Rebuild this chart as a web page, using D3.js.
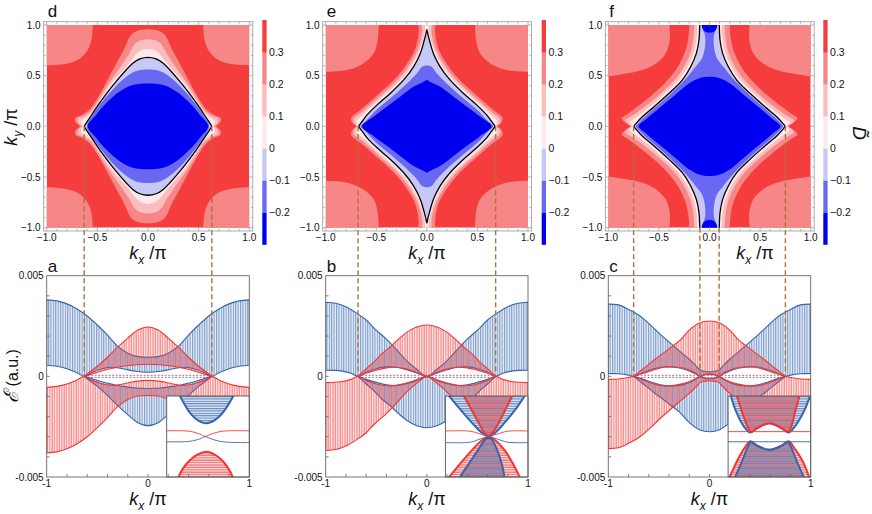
<!DOCTYPE html>
<html>
<head>
<meta charset="utf-8">
<script src="https://cdnjs.cloudflare.com/ajax/libs/d3/7.8.5/d3.min.js"></script>
<style>
  body { margin: 0; background: #fff; }
  text { font-family: "Liberation Sans", Arial, sans-serif; fill: #111; }
</style>
</head>
<body>
<svg id="fig" width="872" height="514"></svg>
<script>
// ---------- colour levels of the D~ maps ----------
const cbLevels = [-0.3, -0.2, -0.1, 0, 0.1, 0.2, 0.3, 0.4];
const cbColors = ["#0000f0", "#6868f2", "#c8c8f6", "#feeaea", "#fbbdbd", "#f78686", "#f53d3d"];
const cbTicks = [-0.2, -0.1, 0, 0.1, 0.2, 0.3];
const mapTicks = [-1, -0.5, 0, 0.5, 1];

// ---------- contour outlines, first quadrant (kx>=0, ky>=0) ----------
// panel d
const dCorner = [[0.546,1.03],[0.553,0.885],[0.595,0.753],[0.694,0.655],[0.842,0.612],[1.03,0.6]];
const dC03 = [[0,0.957],[0.15,0.918],[0.24,0.753],[0.33,0.589],[0.414,0.43],[0.51,0.26],[0.585,0.16],[0.66,0.11],[0.715,0.085],[0.72,0.05],[0.685,0.012],[0.67,0]];
const dC02 = [[0,0.859],[0.11,0.83],[0.19,0.71],[0.28,0.575],[0.384,0.43],[0.49,0.26],[0.565,0.15],[0.64,0.1],[0.69,0.08],[0.695,0.045],[0.665,0.01],[0.652,0]];
const dC01 = [[0,0.766],[0.08,0.745],[0.15,0.67],[0.23,0.57],[0.355,0.43],[0.472,0.26],[0.545,0.15],[0.61,0.09],[0.655,0.06],[0.66,0.03],[0.645,0.005],[0.638,0]];
const dC00 = [[0,0.68],[0.08,0.665],[0.15,0.622],[0.316,0.441],[0.48,0.227],[0.579,0.079],[0.615,0.025],[0.628,0]];
const dCm1 = [[0,0.56],[0.118,0.545],[0.25,0.46],[0.382,0.326],[0.513,0.161],[0.58,0.06],[0.605,0]];
const dCm2 = [[0,0.424],[0.151,0.408],[0.283,0.342],[0.414,0.227],[0.513,0.112],[0.595,0]];
// panel e
const eCorner = [[0.476,1.03],[0.486,0.852],[0.525,0.721],[0.624,0.623],[0.756,0.563],[0.92,0.54],[1.03,0.535]];
const eC03 = [[0.08,1.03],[0.08,0.95],[0.09,0.86],[0.125,0.74],[0.195,0.62],[0.295,0.49],[0.43,0.36],[0.56,0.245],[0.66,0.16],[0.725,0.115],[0.75,0.08],[0.735,0.03],[0.7,0]];
const eC02 = [[0.045,1.03],[0.045,0.95],[0.058,0.86],[0.1,0.735],[0.17,0.61],[0.27,0.48],[0.405,0.35],[0.535,0.235],[0.635,0.145],[0.7,0.1],[0.725,0.07],[0.715,0.025],[0.69,0]];
const eC01 = [[0.015,1.03],[0.018,0.95],[0.038,0.86],[0.082,0.73],[0.15,0.6],[0.25,0.47],[0.385,0.34],[0.515,0.225],[0.615,0.13],[0.67,0.085],[0.695,0.055],[0.692,0.02],[0.682,0]];
const eC00 = [[0,0.955],[0.01,0.91],[0.025,0.852],[0.064,0.721],[0.13,0.589],[0.229,0.458],[0.36,0.327],[0.492,0.212],[0.591,0.113],[0.64,0.048],[0.665,0.015],[0.672,0]];
const eCm1 = [[0,0.6],[0.05,0.585],[0.097,0.524],[0.229,0.392],[0.36,0.278],[0.492,0.169],[0.607,0.048],[0.655,0]];
const eCm2 = [[0,0.458],[0.03,0.441],[0.13,0.392],[0.261,0.294],[0.393,0.195],[0.525,0.097],[0.64,0]];
// panel f
const fCorner = [[0.40,1.03],[0.393,0.852],[0.433,0.72],[0.53,0.62],[0.664,0.556],[0.894,0.51],[1.03,0.49]];
const fC03 = [[0.2,1.03],[0.2,1],[0.21,0.87],[0.24,0.74],[0.3,0.61],[0.385,0.49],[0.51,0.36],[0.64,0.25],[0.76,0.16],[0.83,0.11],[0.87,0.08],[0.83,0.035],[0.785,0]];
const fC02 = [[0.15,1.03],[0.15,1],[0.16,0.86],[0.185,0.735],[0.245,0.6],[0.33,0.475],[0.46,0.345],[0.6,0.225],[0.72,0.135],[0.8,0.085],[0.835,0.06],[0.81,0.025],[0.77,0]];
const fC01 = [[0.12,1.03],[0.12,1],[0.128,0.86],[0.155,0.73],[0.21,0.6],[0.295,0.47],[0.425,0.34],[0.57,0.21],[0.69,0.115],[0.76,0.065],[0.79,0.04],[0.775,0.012],[0.758,0]];
const fC00 = [[0.097,1.03],[0.097,1],[0.104,0.852],[0.13,0.72],[0.186,0.588],[0.269,0.457],[0.40,0.326],[0.548,0.193],[0.664,0.095],[0.72,0.035],[0.746,0]];
const fCm1 = [[0.075,1.03],[0.07,0.97],[0.045,0.9],[0.045,0.78],[0.075,0.67],[0.14,0.585],[0.235,0.47],[0.37,0.335],[0.52,0.2],[0.64,0.095],[0.7,0.035],[0.728,0]];
const fCm2 = [[0,0.49],[0.1,0.475],[0.2,0.425],[0.34,0.31],[0.49,0.185],[0.62,0.075],[0.7,0]];
const fCap = [[0,0.925],[0.04,0.933],[0.065,0.958],[0.077,1],[0.078,1.03]];

// dashed guide lines (kx/pi) and where they start on the map (ky/pi)
const dNodes = [-0.63, 0.63], dNodeStart = [0, 0];
const eNodes = [-0.68, 0.68], eNodeStart = [0, 0];
const fNodes = [-0.75, -0.095, 0.095, 0.75], fNodeStart = [0, -1, -1, 0];

// ---------- band envelopes, E in units of 1e-3, kx from -1 (or node) to 0 ----------
const bandYTicks = [-5, 0, 5];
const bandYLabels = ["-0.005", "0", "0.005"];
const bandXTicks = [-1, 0, 1];
const bandXLabels = ["-1", "0", "1"];

const aBlueTop = [[-1,3.8],[-0.9,3.75],[-0.8,3.6],[-0.7,3.35],[-0.6,3.0],[-0.5,2.55],[-0.4,2.05],[-0.3,1.5],[-0.2,1.15],[-0.1,0.98],[0,0.95]];
const aBlueBot = [[-1,0.55],[-0.9,0.5],[-0.8,0.38],[-0.7,0.18],[-0.63,0],[-0.55,0.2],[-0.45,0.38],[-0.35,0.45],[-0.25,0.38],[-0.12,0.25],[0,0.2]];
const aRedTop = [[-0.63,0],[-0.6,0.12],[-0.5,0.5],[-0.4,0.95],[-0.3,1.45],[-0.2,1.9],[-0.1,2.3],[0,2.45]];
const aRedBot = [[-0.63,0],[-0.55,0.12],[-0.45,0.28],[-0.35,0.4],[-0.25,0.5],[-0.12,0.58],[0,0.6]];
const aEdge = [-0.63, 0.63];

const bBlueTop = [[-1,3.68],[-0.9,3.63],[-0.8,3.46],[-0.69,3.13],[-0.6,2.8],[-0.52,2.38],[-0.4,1.85],[-0.28,1.22],[-0.19,0.73],[-0.1,0.35],[0,0]];
const bBlueBot = [[-1,0.31],[-0.85,0.27],[-0.75,0.15],[-0.68,0],[-0.6,0.2],[-0.5,0.38],[-0.4,0.47],[-0.3,0.45],[-0.2,0.33],[-0.1,0.17],[0,0]];
const bRedTop = [[-0.68,0],[-0.6,0.38],[-0.52,0.73],[-0.45,1.1],[-0.36,1.47],[-0.28,1.85],[-0.19,2.22],[-0.1,2.45],[0,2.55]];
const bRedBot = [[-0.68,0],[-0.6,0.15],[-0.5,0.3],[-0.4,0.42],[-0.3,0.45],[-0.2,0.36],[-0.1,0.2],[0,0]];
const bEdge = [-0.68, 0.68];

const cBlueTop = [[-1,3.59],[-0.9,3.55],[-0.79,3.3],[-0.7,3.05],[-0.62,2.72],[-0.46,1.97],[-0.29,1.23],[-0.2,0.85],[-0.13,0.5],[-0.09,0.3],[-0.05,0.25],[0,0.22]];
const cBlueBot = [[-1,0.15],[-0.9,0.13],[-0.8,0.06],[-0.75,0],[-0.65,0.2],[-0.55,0.38],[-0.45,0.48],[-0.35,0.45],[-0.25,0.35],[-0.15,0.15],[-0.09,0],[-0.05,0.08],[0,0.1]];
const cRedTop = [[-0.75,0],[-0.7,0.2],[-0.62,0.51],[-0.55,0.8],[-0.46,1.14],[-0.38,1.45],[-0.29,1.8],[-0.2,2.3],[-0.1,2.65],[0,2.75]];
const cRedBot = [[-0.75,0],[-0.65,0.15],[-0.55,0.32],[-0.45,0.45],[-0.35,0.48],[-0.25,0.4],[-0.15,0.2],[-0.09,0],[-0.05,0.1],[0,0.12]];
const cEdge = [-0.75, 0.75];
const edgeE = [0.05, -0.05];

// ---------- insets, both axes normalised to [-1, 1] ----------
const iaBlue = [[-0.7,1.05],[-0.6,0.85],[-0.45,0.6],[-0.3,0.44],[-0.15,0.35],[-0.07,0.33],[0.05,0.345],[0.2,0.43],[0.35,0.58],[0.5,0.8],[0.64,1.05]];
const iaRed = [[-0.74,-1.05],[-0.6,-0.78],[-0.45,-0.6],[-0.3,-0.47],[-0.15,-0.4],[-0.07,-0.38],[0.05,-0.395],[0.2,-0.47],[0.35,-0.6],[0.5,-0.8],[0.62,-1.05]];
const iaLineR = [[-1,0.14],[-0.45,0.13],[-0.2,0.06],[-0.07,0.005],[0.08,0.06],[0.35,0.13],[1,0.14]];
const iaLineB = [[-1,-0.13],[-0.45,-0.12],[-0.2,-0.06],[-0.07,-0.005],[0.08,-0.06],[0.35,-0.13],[1,-0.15]];

const ibBlueTop = [[-0.95,1.05],[-0.65,0.68],[-0.35,0.33],[-0.1,0.08],[0.045,0.01],[0.19,0.08],[0.45,0.36],[0.72,0.7],[0.95,1.05]];
const ibRedTop = [[-0.58,1.05],[-0.4,0.72],[-0.2,0.35],[-0.03,0.06],[0.045,0.025],[0.12,0.06],[0.3,0.36],[0.48,0.72],[0.64,1.05]];
const ibRedBot = [[-0.95,-1.05],[-0.65,-0.68],[-0.35,-0.33],[-0.1,-0.08],[0.045,-0.01],[0.19,-0.08],[0.45,-0.36],[0.65,-0.7],[0.82,-1.05]];
const ibBlueBot = [[-0.68,-1.05],[-0.45,-0.7],[-0.22,-0.35],[-0.03,-0.07],[0.045,-0.03],[0.12,-0.07],[0.26,-0.35],[0.37,-0.7],[0.44,-1.05]];
const ibLineR = [[-1,0.136],[-0.4,0.13],[-0.15,0.06],[0.045,0.005],[0.25,0.06],[0.5,0.13],[1,0.136]];
const ibLineB = [[-1,-0.15],[-0.4,-0.14],[-0.15,-0.06],[0.045,-0.005],[0.25,-0.06],[0.5,-0.14],[1,-0.15]];

const icBlueTop = [[-0.95,1.05],[-0.8,0.6],[-0.62,0.25],[-0.47,0.1],[-0.3,0.2],[0,0.33],[0.3,0.2],[0.47,0.1],[0.62,0.25],[0.85,0.65],[1.0,1.05]];
const icRedTop = [[-0.8,1.05],[-0.66,0.6],[-0.53,0.25],[-0.45,0.12],[-0.3,0.21],[0,0.33],[0.3,0.21],[0.45,0.12],[0.53,0.25],[0.62,0.6],[0.74,1.05]];
const icRedBot = [[-0.98,-1.05],[-0.78,-0.6],[-0.58,-0.25],[-0.47,-0.12],[-0.3,-0.22],[0,-0.33],[0.3,-0.22],[0.47,-0.12],[0.58,-0.25],[0.8,-0.6],[0.98,-1.05]];
const icBlueBot = [[-0.85,-1.05],[-0.66,-0.6],[-0.52,-0.25],[-0.45,-0.13],[-0.3,-0.23],[0,-0.33],[0.3,-0.23],[0.45,-0.13],[0.52,-0.25],[0.66,-0.6],[0.85,-1.05]];
const icLineR = [[-1,0.12],[1,0.12]];
const icLineB = [[-1,-0.13],[1,-0.13]];

// ---------- layout ----------
const BLUE = "#3466ad", RED = "#f23636", GUIDE = "#a8753f";
const mapTop = 25, mapBottom = 227.7;
const cbTop = 20, cbBottom = 244.5, cbWidth = 4.3;
const bandTop = 275.7, bandBottom = 477, insetTop = 396;

const svg = d3.select("#fig");
const defs = svg.append("defs");

function stripes(id, color, offset, horizontal, op) {
  const p = defs.append("pattern").attr("id", id).attr("patternUnits", "userSpaceOnUse")
    .attr("width", horizontal ? 10 : 2.4).attr("height", horizontal ? 2.4 : 10);
  p.append("rect")
    .attr(horizontal ? "y" : "x", offset).attr(horizontal ? "x" : "y", 0)
    .attr(horizontal ? "height" : "width", 1.1).attr(horizontal ? "width" : "height", 10)
    .attr("fill", color).attr("fill-opacity", op);
}
stripes("vBlue", BLUE, 0, false, 0.6);
stripes("vRed", RED, 1.2, false, 0.6);
stripes("hBlue", BLUE, 0, true, 0.75);
stripes("hRed", RED, 1.2, true, 0.75);

// mirror a first-quadrant outline into a closed ring
function ring(q) {
  const out = q.slice();
  q.slice().reverse().forEach((p, i) => { if (!(i === 0 && p[1] === 0)) out.push([p[0], -p[1]]); });
  q.forEach((p, i) => { if (!(i === 0 && p[0] === 0)) out.push([-p[0], -p[1]]); });
  const r = q.slice().reverse();
  r.forEach((p, i) => {
    if (i === 0 && p[1] === 0) return;
    if (i === r.length - 1 && p[0] === 0) return;
    out.push([-p[0], p[1]]);
  });
  return out;
}
// mirror a left-half envelope (kx -1..0) onto the right half
function fullBand(left) {
  return left.concat(left.slice(0, -1).reverse().map(([k, e]) => [-k, e]));
}
const fmtMap = t => t === 0 ? "0.0" : (t < 0 ? "\u2212" : "") + Math.abs(t).toFixed(1);

function kLabel(sel, sub) {
  sel.append("tspan").style("font-style", "italic").text("k");
  sel.append("tspan").attr("dy", 4.5).style("font-size", "12px").style("font-style", "italic").text(sub);
  sel.append("tspan").attr("dy", -4.5).text(" /\u03c0");
}

// ---------- top row: maps ----------
const topPanels = [
  { name: "d", x0: 46.7, x1: 249.3, cb: 262.3, corner: dCorner,
    levels: [dC03, dC02, dC01, dC00, dCm1, dCm2], zero: dC00, nodes: dNodes, start: dNodeStart, labelX: 148 },
  { name: "e", x0: 325.7, x1: 528, cb: 541.7, corner: eCorner,
    levels: [eC03, eC02, eC01, eC00, eCm1, eCm2], zero: eC00, nodes: eNodes, start: eNodeStart, labelX: 427 },
  { name: "f", x0: 608.3, x1: 810.7, cb: 823.3, corner: fCorner, cap: fCap,
    levels: [fC03, fC02, fC01, fC00, fCm1, fCm2], zero: fC00, nodes: fNodes, start: fNodeStart, labelX: 755 }
];

topPanels.forEach(p => {
  const x = d3.scaleLinear().domain([-1, 1]).range([p.x0, p.x1]);
  const y = d3.scaleLinear().domain([-1, 1]).range([mapBottom, mapTop]);
  p.x = x; p.y = y;
  const g = svg.append("g");

  defs.append("clipPath").attr("id", "clip-" + p.name).append("rect")
    .attr("x", p.x0).attr("y", mapTop).attr("width", p.x1 - p.x0).attr("height", mapBottom - mapTop);
  const area = g.append("g").attr("clip-path", `url(#clip-${p.name})`);

  const closed = d3.line().x(d => x(d[0])).y(d => y(d[1])).curve(d3.curveCatmullRomClosed.alpha(0.5));
  const open = d3.line().x(d => x(d[0])).y(d => y(d[1])).curve(d3.curveCatmullRom.alpha(0.5));

  area.append("rect").attr("x", p.x0).attr("y", mapTop)
    .attr("width", p.x1 - p.x0).attr("height", mapBottom - mapTop).attr("fill", cbColors[6]);

  // corner pockets (0.2 .. 0.3)
  [[1, 1], [-1, 1], [1, -1], [-1, -1]].forEach(([sx, sy]) => {
    const pts = p.corner.map(([a, b]) => [sx * a, sy * b]);
    area.append("path")
      .attr("d", open(pts) + `L${x(sx * 1.05)},${y(sy * 1.05)}Z`)
      .attr("fill", cbColors[5]);
  });

  // nested levels, outer to inner
  p.levels.forEach((q, i) => {
    area.append("path").attr("d", closed(ring(q))).attr("fill", cbColors[5 - i]);
  });

  if (p.cap) {
    const half = p.cap.slice(1).reverse().map(([a, b]) => [-a, b]).concat(p.cap);
    [1, -1].forEach(s => {
      area.append("path").attr("d", closed(half.map(([a, b]) => [a, s * b]))).attr("fill", cbColors[0]);
    });
  }

  area.append("path").attr("d", closed(ring(p.zero)))
    .attr("fill", "none").attr("stroke", "#000").attr("stroke-width", 1.3);

  // frame with ticks
  const fx0 = p.x0 - 3, fx1 = p.x1 + 3.5, fy0 = mapTop - 3.3, fy1 = mapBottom + 3.3;
  g.append("rect").attr("x", fx0).attr("y", fy0).attr("width", fx1 - fx0).attr("height", fy1 - fy0)
    .attr("fill", "none").attr("stroke", "#999").attr("stroke-width", 0.8);
  const minor = d3.range(-10, 11).map(i => i / 10);
  minor.forEach(t => {
    const major = mapTicks.some(m => Math.abs(m - t) < 1e-9);
    const len = major ? 4 : 2;
    g.append("line").attr("x1", x(t)).attr("x2", x(t)).attr("y1", fy1).attr("y2", fy1 - len)
      .attr("stroke", "#999").attr("stroke-width", 0.7);
    g.append("line").attr("x1", x(t)).attr("x2", x(t)).attr("y1", fy0).attr("y2", fy0 + len)
      .attr("stroke", "#999").attr("stroke-width", 0.7);
    g.append("line").attr("y1", y(t)).attr("y2", y(t)).attr("x1", fx0).attr("x2", fx0 + len)
      .attr("stroke", "#999").attr("stroke-width", 0.7);
    g.append("line").attr("y1", y(t)).attr("y2", y(t)).attr("x1", fx1).attr("x2", fx1 - len)
      .attr("stroke", "#999").attr("stroke-width", 0.7);
  });
  mapTicks.forEach(t => {
    g.append("text").attr("x", x(t)).attr("y", 241).attr("text-anchor", "middle")
      .style("font-size", "10px").text(fmtMap(t));
    g.append("text").attr("x", fx0 - 3).attr("y", y(t)).attr("dy", "0.35em").attr("text-anchor", "end")
      .style("font-size", "10px").text(fmtMap(t));
  });

  // colour bar
  const cy = d3.scaleLinear().domain([cbLevels[0], cbLevels[cbLevels.length - 1]]).range([cbBottom, cbTop]);
  cbColors.forEach((c, i) => {
    g.append("rect").attr("x", p.cb).attr("width", cbWidth)
      .attr("y", cy(cbLevels[i + 1])).attr("height", cy(cbLevels[i]) - cy(cbLevels[i + 1]) + 0.3)
      .attr("fill", c);
  });
  cbTicks.forEach(t => {
    g.append("text").attr("x", p.cb + cbWidth + 2.5).attr("y", cy(t)).attr("dy", "0.35em")
      .style("font-size", "10.5px")
      .text(t === 0 ? "0" : (t < 0 ? "\u2212" : "") + Math.abs(t).toFixed(1));
  });

  // axis label k_x/pi
  kLabel(g.append("text").attr("x", p.labelX).attr("y", 259).attr("text-anchor", "middle").style("font-size", "18px"), "x");

  g.append("text").attr("x", p.x0 + 1).attr("y", 17).style("font-size", "17px").text(p.name);
});

// colour bar title and ky label
svg.append("text").attr("transform", "translate(853,133) rotate(90)").attr("text-anchor", "middle")
  .style("font-size", "19px").style("font-style", "italic").text("D\u0303");
kLabel(svg.append("text").attr("transform", "translate(17,127) rotate(-90)")
  .attr("text-anchor", "middle").style("font-size", "18px"), "y");

// ---------- bottom row: bands ----------
const bottomPanels = [
  { name: "a", x0: 46.7, x1: 249.3, blueTop: aBlueTop, blueBot: aBlueBot, redTop: aRedTop, redBot: aRedBot, edge: aEdge,
    inset: { shapes: [[iaBlue, "hBlue", BLUE], [iaRed, "hRed", RED]], lineR: iaLineR, lineB: iaLineB } },
  { name: "b", x0: 325.7, x1: 528, blueTop: bBlueTop, blueBot: bBlueBot, redTop: bRedTop, redBot: bRedBot, edge: bEdge,
    inset: { shapes: [[ibBlueTop, "hBlue", BLUE], [ibRedTop, "hRed", RED], [ibRedBot, "hRed", RED], [ibBlueBot, "hBlue", BLUE]],
             lineR: ibLineR, lineB: ibLineB } },
  { name: "c", x0: 608.3, x1: 810.7, blueTop: cBlueTop, blueBot: cBlueBot, redTop: cRedTop, redBot: cRedBot, edge: cEdge,
    inset: { shapes: [[icBlueTop, "hBlue", BLUE], [icRedTop, "hRed", RED], [icRedBot, "hRed", RED], [icBlueBot, "hBlue", BLUE]],
             lineR: icLineR, lineB: icLineB } }
];

bottomPanels.forEach(p => {
  const x = d3.scaleLinear().domain([-1, 1]).range([p.x0, p.x1]);
  const y = d3.scaleLinear().domain([-5, 5]).range([bandBottom, bandTop]);
  const g = svg.append("g");
  defs.append("clipPath").attr("id", "clip-" + p.name).append("rect")
    .attr("x", p.x0).attr("y", bandTop).attr("width", p.x1 - p.x0).attr("height", bandBottom - bandTop);
  const area = g.append("g").attr("clip-path", `url(#clip-${p.name})`);
  const curve = d3.line().x(d => x(d[0])).y(d => y(d[1])).curve(d3.curveCatmullRom.alpha(0.5));

  function band(top, bot, color, pat) {
    const d = curve(top) + curve(bot.slice().reverse()).replace(/^M/, "L") + "Z";
    area.append("path").attr("d", d).attr("fill", color).attr("fill-opacity", 0.1);
    area.append("path").attr("d", d).attr("fill", `url(#${pat})`);
    area.append("path").attr("d", d).attr("fill", "none").attr("stroke", color).attr("stroke-width", 1.1);
  }
  const flip = arr => arr.map(([k, e]) => [k, -e]);
  const bt = fullBand(p.blueTop), bb = fullBand(p.blueBot);
  const rt = fullBand(p.redTop), rb = fullBand(p.redBot);
  // upper half: blue outer band, red centre band; lower half mirrored with colours swapped
  band(bt, bb, BLUE, "vBlue");
  band(rt, rb, RED, "vRed");
  band(flip(rt), flip(rb), BLUE, "vBlue");
  band(flip(bt), flip(bb), RED, "vRed");

  // flat edge states between the nodes
  [[edgeE[0], RED], [edgeE[1], BLUE]].forEach(([e, c]) => {
    area.append("line").attr("x1", x(p.edge[0])).attr("x2", x(p.edge[1])).attr("y1", y(e)).attr("y2", y(e))
      .attr("stroke", c).attr("stroke-width", 0.8).attr("stroke-dasharray", "2,1.5");
  });

  // inset
  const ix0 = p.x1 - 82.6, ix1 = p.x1;
  const u = d3.scaleLinear().domain([-1, 1]).range([ix0, ix1]);
  const v = d3.scaleLinear().domain([-1, 1]).range([bandBottom, insetTop]);
  defs.append("clipPath").attr("id", "clipi-" + p.name).append("rect")
    .attr("x", ix0).attr("y", insetTop).attr("width", ix1 - ix0).attr("height", bandBottom - insetTop);
  const ig = g.append("g");
  ig.append("rect").attr("x", ix0).attr("y", insetTop).attr("width", ix1 - ix0).attr("height", bandBottom - insetTop)
    .attr("fill", "#fff");
  const ia = ig.append("g").attr("clip-path", `url(#clipi-${p.name})`);
  const icurve = d3.line().x(d => u(d[0])).y(d => v(d[1])).curve(d3.curveCatmullRom.alpha(0.5));
  p.inset.shapes.forEach(([pts, pat, color]) => {
    const d = icurve(pts) + "Z";
    ia.append("path").attr("d", d).attr("fill", color).attr("fill-opacity", 0.15);
    ia.append("path").attr("d", d).attr("fill", `url(#${pat})`);
    ia.append("path").attr("d", d).attr("fill", "none").attr("stroke", color).attr("stroke-width", 2);
  });
  ia.append("path").attr("d", icurve(p.inset.lineR)).attr("fill", "none").attr("stroke", RED).attr("stroke-width", 0.9);
  ia.append("path").attr("d", icurve(p.inset.lineB)).attr("fill", "none").attr("stroke", BLUE).attr("stroke-width", 0.9);
  ig.append("rect").attr("x", ix0).attr("y", insetTop).attr("width", ix1 - ix0).attr("height", bandBottom - insetTop)
    .attr("fill", "none").attr("stroke", "#555").attr("stroke-width", 0.9);

  // frame and ticks
  g.append("rect").attr("x", p.x0).attr("y", bandTop).attr("width", p.x1 - p.x0).attr("height", bandBottom - bandTop)
    .attr("fill", "none").attr("stroke", "#666").attr("stroke-width", 0.9);
  d3.range(-4, 5).forEach(e => {
    g.append("line").attr("x1", p.x0).attr("x2", p.x0 + 3).attr("y1", y(e)).attr("y2", y(e))
      .attr("stroke", "#666").attr("stroke-width", 0.8);
  });
  d3.range(-4, 5).forEach(i => {
    const k = i / 5;
    g.append("line").attr("x1", x(k)).attr("x2", x(k)).attr("y1", bandBottom).attr("y2", bandBottom - 3)
      .attr("stroke", "#666").attr("stroke-width", 0.8);
  });
  bandYTicks.forEach((e, i) => {
    g.append("text").attr("x", p.x0 - 3).attr("y", y(e)).attr("dy", "0.35em").attr("text-anchor", "end")
      .style("font-size", "10px").text(bandYLabels[i]);
  });
  bandXTicks.forEach((k, i) => {
    g.append("text").attr("x", x(k)).attr("y", 487).attr("text-anchor", "middle")
      .style("font-size", "10px").text(bandXLabels[i]);
  });

  kLabel(g.append("text").attr("x", (p.x0 + p.x1) / 2).attr("y", 505).attr("text-anchor", "middle").style("font-size", "18px"), "x");

  g.append("text").attr("x", p.x0 + 1).attr("y", 272).style("font-size", "17px").text(p.name);
  p.yScale = y;
});

{
  const t = svg.append("text").attr("transform", "translate(18,376) rotate(-90)").attr("text-anchor", "middle")
    .style("font-size", "16px");
  t.append("tspan").style("font-size", "20px").style("font-style", "italic").text("\u2130");
  t.append("tspan").text(" (a.u.)");
}

// ---------- dashed guides from the maps down to E = 0 ----------
const yZero = bottomPanels[0].yScale(0);
topPanels.forEach(p => {
  p.nodes.forEach((k, i) => {
    svg.append("line").attr("x1", p.x(k)).attr("x2", p.x(k))
      .attr("y1", p.y(p.start[i])).attr("y2", yZero)
      .attr("stroke", GUIDE).attr("stroke-width", 1.4).attr("stroke-dasharray", "5,3");
  });
});
</script>
</body>
</html>
